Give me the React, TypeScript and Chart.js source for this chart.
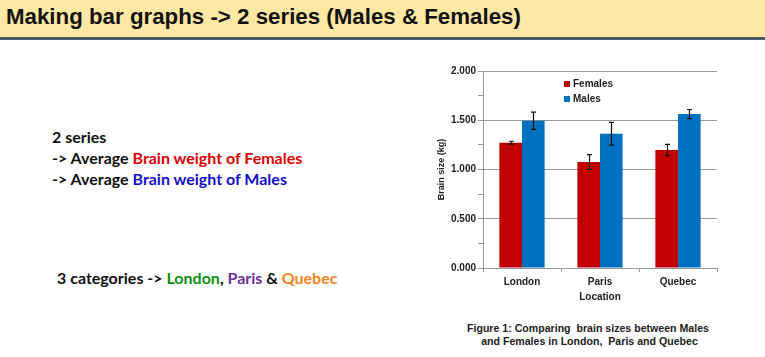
import React, { useEffect, useRef } from 'react';
import { Chart, registerables } from 'chart.js';

Chart.register(...registerables);

const categories = ['London', 'Paris', 'Quebec'];
const femalesValues = [1.272, 1.076, 1.198];
const malesValues = [1.495, 1.363, 1.563];
const femalesErrors = [0.015, 0.075, 0.058];
const malesErrors = [0.088, 0.115, 0.046];
const seriesNames = ['Females', 'Males'];
const yMin = 0;
const yMax = 2;
const yMinorStep = 0.25;
const yMajorStep = 0.5;

const FEMALE_COLOR = '#C00000';
const MALE_COLOR = '#0070C0';

const errorBarPlugin = {
  id: 'errorBars',
  afterDatasetsDraw(chart: any) {
    const ctx = chart.ctx;
    const yScale = chart.scales.y;
    const errs = [femalesErrors, malesErrors];
    ctx.save();
    ctx.strokeStyle = '#111';
    ctx.lineWidth = 1.2;
    chart.data.datasets.forEach((ds: any, di: number) => {
      const meta = chart.getDatasetMeta(di);
      meta.data.forEach((el: any, i: number) => {
        const v = ds.data[i];
        const e = errs[di][i];
        const x = Math.round(el.x) + 0.5;
        const yt = yScale.getPixelForValue(v + e);
        const yb = yScale.getPixelForValue(v - e);
        ctx.beginPath();
        ctx.moveTo(x, yt);
        ctx.lineTo(x, yb);
        ctx.moveTo(x - 2.5, yt);
        ctx.lineTo(x + 2.5, yt);
        ctx.moveTo(x - 2.5, yb);
        ctx.lineTo(x + 2.5, yb);
        ctx.stroke();
      });
    });
    ctx.restore();
  },
};

function BarChart() {
  const ref = useRef<HTMLCanvasElement | null>(null);
  useEffect(() => {
    if (!ref.current) return;
    const tickFont = { family: '"Liberation Sans", Arial, sans-serif', size: 10, weight: 'bold' as const };
    const chart = new Chart(ref.current, {
      type: 'bar',
      data: {
        labels: categories,
        datasets: [
          {
            label: seriesNames[0],
            data: femalesValues,
            backgroundColor: FEMALE_COLOR,
            categoryPercentage: 0.58,
            barPercentage: 1.0,
          },
          {
            label: seriesNames[1],
            data: malesValues,
            backgroundColor: MALE_COLOR,
            categoryPercentage: 0.58,
            barPercentage: 1.0,
          },
        ],
      },
      options: {
        animation: false,
        responsive: false,
        maintainAspectRatio: false,
        layout: { padding: { top: 11, right: 3, left: 0, bottom: 0 } },
        plugins: {
          legend: { display: false },
          tooltip: { enabled: false },
        },
        scales: {
          x: {
            grid: {
              offset: true,
              color: 'rgba(0,0,0,0)',
              tickColor: '#999',
              tickLength: 4,
            },
            border: { color: '#999', width: 1 },
            ticks: { font: tickFont, color: '#222', padding: 4 },
            title: {
              display: true,
              text: 'Location',
              font: tickFont,
              color: '#222',
              padding: { top: 7, bottom: 7 },
            },
            afterFit(scale: any) {
              scale.height = 42;
            },
          },
          y: {
            min: yMin,
            max: yMax,
            ticks: {
              stepSize: yMinorStep,
              font: tickFont,
              color: '#222',
              padding: 2,
              callback: (v: any) => {
                const n = Number(v);
                return Math.abs(n / yMajorStep - Math.round(n / yMajorStep)) < 1e-6 ? n.toFixed(3) : '';
              },
            },
            grid: {
              color: (c: any) => {
                const n = c.tick ? c.tick.value : 0;
                return Math.abs(n / yMajorStep - Math.round(n / yMajorStep)) < 1e-6 ? '#999' : 'rgba(0,0,0,0)';
              },
              tickColor: '#999',
              tickLength: 5,
            },
            border: { color: '#999', width: 1 },
            title: {
              display: true,
              text: 'Brain size (kg)',
              font: { family: '"Liberation Sans", Arial, sans-serif', size: 9, weight: 'bold' },
              color: '#222',
              padding: { top: 6, bottom: 0 },
            },
            afterFit(scale: any) {
              scale.width = 53;
            },
          },
        },
      },
      plugins: [errorBarPlugin],
    });
    return () => chart.destroy();
  }, []);
  return (
    <canvas
      ref={ref}
      width={290}
      height={250}
      style={{ position: 'absolute', left: 430, top: 60, width: 290, height: 250 }}
    />
  );
}

export default function App() {
  const bodyFont = 'Lato, "Open Sans", sans-serif';
  const arial = '"Liberation Sans", Arial, sans-serif';
  return (
    <div style={{ position: 'fixed', left: 0, top: 0, width: 765, height: 357, background: '#fff', overflow: 'hidden' }}>
      <div
        style={{
          position: 'absolute', left: 0, top: 0, width: 765, height: 37,
          background: '#FFE8A4', borderBottom: '3px solid #4B5C65',
        }}
      >
        <div style={{ position: 'absolute', left: 6, top: 4, fontFamily: arial, fontWeight: 'bold', fontSize: 22.3, color: '#111', whiteSpace: 'nowrap' }}>
          Making bar graphs -&gt; 2 series (Males &amp; Females)
        </div>
      </div>

      <div style={{ position: 'absolute', left: 52, top: 126, fontFamily: bodyFont, fontWeight: 'bold', fontSize: 16, lineHeight: '21px', color: '#111', whiteSpace: 'nowrap' }}>
        <div>2 series</div>
        <div>-&gt; Average <span style={{ color: '#E00000' }}>Brain weight of Females</span></div>
        <div>-&gt; Average <span style={{ color: '#1010D0' }}>Brain weight of Males</span></div>
      </div>

      <div style={{ position: 'absolute', left: 57, top: 267, fontFamily: bodyFont, fontWeight: 'bold', fontSize: 16, lineHeight: '21px', color: '#111', whiteSpace: 'nowrap' }}>
        3 categories -&gt; <span style={{ color: '#109010' }}>London</span>, <span style={{ color: '#7030A0' }}>Paris</span> &amp; <span style={{ color: '#F58220' }}>Quebec</span>
      </div>

      <BarChart />

      <div style={{ position: 'absolute', left: 564, top: 76, fontFamily: arial, fontWeight: 'bold', fontSize: 10, lineHeight: '15px', color: '#222', whiteSpace: 'nowrap' }}>
        <div><span style={{ display: 'inline-block', width: 6, height: 6, background: FEMALE_COLOR, marginRight: 3 }} />{seriesNames[0]}</div>
        <div><span style={{ display: 'inline-block', width: 6, height: 6, background: MALE_COLOR, marginRight: 3 }} />{seriesNames[1]}</div>
      </div>

      <div style={{ position: 'absolute', left: 467, top: 322, width: 245, textAlign: 'center', fontFamily: arial, fontWeight: 'bold', fontSize: 10.6, lineHeight: '13px', color: '#222', whiteSpace: 'nowrap' }}>
        <div style={{ textAlign: 'left' }}>Figure 1: Comparing&nbsp; brain sizes between Males</div>
        <div>and Females in London,&nbsp; Paris and Quebec</div>
      </div>
    </div>
  );
}
